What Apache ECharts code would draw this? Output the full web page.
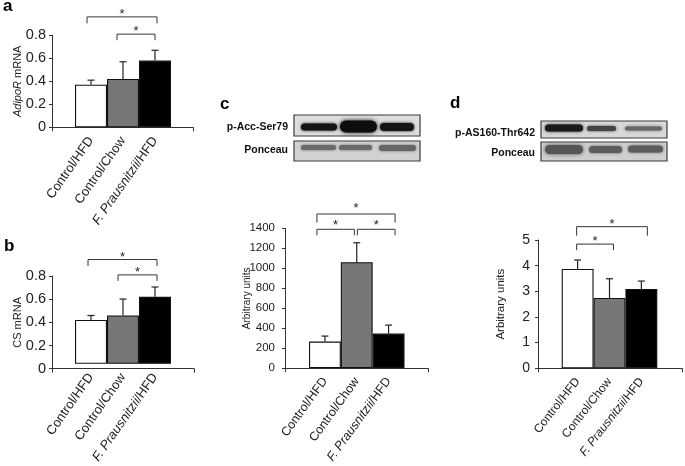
<!DOCTYPE html>
<html><head><meta charset="utf-8">
<script src="https://cdn.jsdelivr.net/npm/echarts@6/dist/echarts.min.js"></script>
<style>html,body{margin:0;padding:0;background:#fff}#c{width:685px;height:466px}</style>
</head><body><div id="c"></div>
<script>
// ---------------- data ----------------
const categories = ['Control/HFD', 'Control/Chow', 'F. Prausnitzii/HFD'];

const adipoRMean = [0.37, 0.42, 0.58];
const adipoRErr  = [0.04, 0.15, 0.09];
const adipoRTicks = [0, 0.8, 0.2];           // min, max, interval
const adipoRSig = [[0, 2, 0.96], [1, 2, 0.81]]; // from, to, level

const csMean = [0.40, 0.44, 0.61];
const csErr  = [0.04, 0.15, 0.09];
const csTicks = [0, 0.8, 0.2];
const csSig = [[0, 2, 0.95], [1, 2, 0.81]];

const accMean = [265, 1060, 345];
const accErr  = [55, 195, 85];
const accTicks = [0, 1400, 200];
const accSig = [[0, 2, 1543], [0, 1, 1390], [1, 2, 1390]];

const as160Mean = [3.87, 2.74, 3.09];
const as160Err  = [0.35, 0.75, 0.31];
const as160Ticks = [0, 5, 1];
const as160Sig = [[0, 2, 5.52], [0, 1, 4.84]];

// ---------------- style / layout ----------------
const FONT = 'Liberation Sans, Arial, sans-serif';
const TXT = '#222';
const AX = '#333';
const barColors = ['#ffffff', '#777777', '#000000'];

const panels = [
  { mean: adipoRMean, err: adipoRErr, ticks: adipoRTicks, sig: adipoRSig,
    name: '{i|AdipoR}{n| mRNA}', nameGap: 29, nameSize: 11, tickSize: 14.5, tickMargin: 6, catSize: 13, rot: 55, catMargin: 11,
    outer: {left: 52, top: 35.3, width: 141, height: 92}, inner: {left: 75, width: 96},
    nudge: [[-4, 2, 6.5], [-6, 0, 6]], starUp: [2.5, 2.5] },
  { mean: csMean, err: csErr, ticks: csTicks, sig: csSig,
    name: '{n|CS mRNA}', nameGap: 29, nameSize: 11, tickSize: 14.5, tickMargin: 6, catSize: 13, rot: 55, catMargin: 11,
    outer: {left: 52, top: 276, width: 142, height: 92.7}, inner: {left: 75, width: 96},
    nudge: [[-3, 2, 6.5], [-5, 2, 6]], starUp: [2.5, 2.5] },
  { mean: accMean, err: accErr, ticks: accTicks, sig: accSig,
    name: '{n|Arbitrary units}', nameGap: 33, nameSize: 10, tickSize: 11.5, tickMargin: 10, catSize: 12.5, rot: 54, catMargin: 11,
    outer: {left: 285, top: 228.3, width: 143, height: 140}, inner: {left: 309, width: 95.5},
    nudge: [[-8, 6.5, 8.5], [-8, -2.4, 6], [0.6, 6.5, 6]], starUp: [6, 4, 4] },
  { mean: as160Mean, err: as160Err, ticks: as160Ticks, sig: as160Sig,
    name: '{n|Arbitrary units}', nameGap: 31, nameSize: 11.5, tickSize: 14, tickMargin: 8, catSize: 12, rot: 52, catMargin: 11,
    outer: {left: 538, top: 240, width: 144, height: 128.3}, inner: {left: 561.7, width: 95.6},
    nudge: [[-1, 6, 9], [-1, 4, 6]], starUp: [2.5, 3] }
];

const grid = [], xAxis = [], yAxis = [], series = [];

panels.forEach((p, k) => {
  const go = 2 * k, gi = 2 * k + 1;
  grid.push({left: p.outer.left, top: p.outer.top, width: p.outer.width, height: p.outer.height});
  grid.push({left: p.inner.left, top: p.outer.top, width: p.inner.width, height: p.outer.height});

  // outer axes (visible lines / y labels)
  xAxis.push({ type: 'category', gridIndex: go, data: [''], boundaryGap: true,
    axisLine: {show: true, lineStyle: {color: AX, width: 1}},
    axisTick: {show: true, length: 4, lineStyle: {color: AX}},
    axisLabel: {show: false}, splitLine: {show: false} });
  yAxis.push({ type: 'value', gridIndex: go, min: p.ticks[0], max: p.ticks[1], interval: p.ticks[2],
    axisLine: {show: true, lineStyle: {color: AX, width: 1}},
    axisTick: {show: true, length: 3, lineStyle: {color: AX}},
    axisLabel: {color: TXT, fontSize: p.tickSize, fontFamily: FONT, margin: p.tickMargin, formatter: v => String(v)},
    splitLine: {show: false},
    name: p.name, nameLocation: 'middle', nameRotate: 90, nameGap: p.nameGap, nameMoveOverlap: false,
    nameTextStyle: { fontFamily: FONT, fontSize: p.nameSize, color: TXT,
      rich: { i: {fontStyle: 'italic', fontFamily: FONT, fontSize: p.nameSize, color: TXT},
              n: {fontFamily: FONT, fontSize: p.nameSize, color: TXT} } } });

  // inner axes (bars + category labels)
  xAxis.push({ type: 'category', gridIndex: gi, data: categories,
    axisLine: {show: false}, axisTick: {show: false}, splitLine: {show: false},
    axisLabel: { interval: 0, rotate: p.rot, margin: p.catMargin, color: TXT,
      formatter: v => v.indexOf('F. Prausnitzii') === 0 ? '{i|F. Prausnitzii}{n|/HFD}' : '{n|' + v + '}',
      rich: { i: {fontStyle: 'italic', fontFamily: FONT, fontSize: p.catSize, color: TXT},
              n: {fontFamily: FONT, fontSize: p.catSize, color: TXT} } } });
  yAxis.push({ type: 'value', gridIndex: gi, min: p.ticks[0], max: p.ticks[1], interval: p.ticks[2], show: false });

  series.push({ type: 'bar', xAxisIndex: gi, yAxisIndex: gi, barCategoryGap: '0%', barWidth: '100%',
    data: p.mean.map((v, i) => ({ value: v, itemStyle: {color: barColors[i], borderColor: '#111', borderWidth: 1.1} })),
    silent: true, z: 2 });

  series.push({ type: 'custom', xAxisIndex: gi, yAxisIndex: gi, z: 3, silent: true,
    data: p.mean.map((v, i) => [i, v, p.err[i]]),
    encode: {x: 0, y: 1},
    renderItem: (params, api) => {
      const i = api.value(0), m = api.value(1), e = api.value(2);
      const a = api.coord([i, m]), b = api.coord([i, m + e]);
      const st = {stroke: '#222', lineWidth: 1.2};
      return { type: 'group', children: [
        {type: 'line', shape: {x1: a[0], y1: a[1], x2: b[0], y2: b[1]}, style: st},
        {type: 'line', shape: {x1: b[0] - 3.5, y1: b[1], x2: b[0] + 3.5, y2: b[1]}, style: st}
      ]};
    } });

  series.push({ type: 'custom', xAxisIndex: gi, yAxisIndex: gi, z: 3, silent: true, clip: false,
    data: p.sig.map(s => [s[0], s[1], s[2]]),
    encode: {x: [0, 1], y: 2},
    renderItem: (params, api) => {
      const n = p.nudge[params.dataIndex];
      const a = api.coord([api.value(0), api.value(2)]);
      const b = api.coord([api.value(1), api.value(2)]);
      const x1 = a[0] + n[0], x2 = b[0] + n[1], y = a[1], d = n[2];
      return { type: 'group', children: [
        {type: 'polyline', shape: {points: [[x1, y + d], [x1, y], [x2, y], [x2, y + d]]},
         style: {stroke: '#333', lineWidth: 1, fill: null}},
        {type: 'text', x: (x1 + x2) / 2, y: y - p.starUp[params.dataIndex],
         style: {text: '*', fontSize: 13, fontFamily: FONT, fill: TXT, align: 'center', verticalAlign: 'middle'}}
      ]};
    } });
});

// ---------------- blot pictures & labels ----------------
function blotBox(x, y, w, h, bg) {
  return {type: 'rect', shape: {x, y, width: w, height: h}, style: {fill: bg, stroke: '#3a3a3a', lineWidth: 1.2}};
}
function band(x, y, w, h, color, blur) {
  return {type: 'rect', shape: {x, y, width: w, height: h, r: h / 2},
    style: {fill: color, shadowBlur: blur, shadowColor: color}};
}
function label(text, x, y, size, bold) {
  return {type: 'text', x, y, style: {text, fontSize: size, fontWeight: bold ? 'bold' : 'normal',
    fontFamily: FONT, fill: '#111', align: 'right', verticalAlign: 'bottom'}};
}
const graphic = [
  {type: 'text', x: 3, y: -2, style: {text: 'a', fontSize: 17, fontWeight: 'bold', fontFamily: FONT, fill: '#000'}},
  {type: 'text', x: 4, y: 238, style: {text: 'b', fontSize: 17, fontWeight: 'bold', fontFamily: FONT, fill: '#000'}},
  {type: 'text', x: 220, y: 96, style: {text: 'c', fontSize: 17, fontWeight: 'bold', fontFamily: FONT, fill: '#000'}},
  {type: 'text', x: 450, y: 95, style: {text: 'd', fontSize: 17, fontWeight: 'bold', fontFamily: FONT, fill: '#000'}},

  label('p-Acc-Ser79', 288, 133, 10.5, true),
  label('Ponceau', 288, 156, 10.5, true),
  blotBox(294, 115, 126, 21, '#dedede'),
  band(301, 123.5, 36, 7, '#151515', 3),
  band(340, 120.5, 37, 12, '#0d0d0d', 4),
  band(380, 123, 34, 8, '#151515', 3),
  blotBox(294, 141, 126, 20, '#d2d2d2'),
  band(301, 145, 35, 5, '#6a6a6a', 3),
  band(339, 145, 33, 5, '#6a6a6a', 3),
  band(379, 145, 37, 6, '#666666', 3),

  label('p-AS160-Thr642', 535, 139, 10.5, true),
  label('Ponceau', 535, 159, 10.5, true),
  blotBox(541, 121, 126, 17, '#d8d8d8'),
  band(545, 124.5, 38, 7, '#1a1a1a', 3),
  band(587, 126, 29, 5, '#444444', 3),
  band(625, 126.5, 37, 4, '#666666', 3),
  blotBox(541, 142, 126, 19, '#cfcfcf'),
  band(545, 145, 38, 9, '#555555', 4),
  band(589, 146, 33, 7, '#5c5c5c', 3),
  band(628, 145.5, 35, 7, '#5c5c5c', 3)
];

const chart = echarts.init(document.getElementById('c'), null, {renderer: 'canvas'});
chart.setOption({ backgroundColor: '#fff', animation: false, grid, xAxis, yAxis, series, graphic });
</script></body></html>
